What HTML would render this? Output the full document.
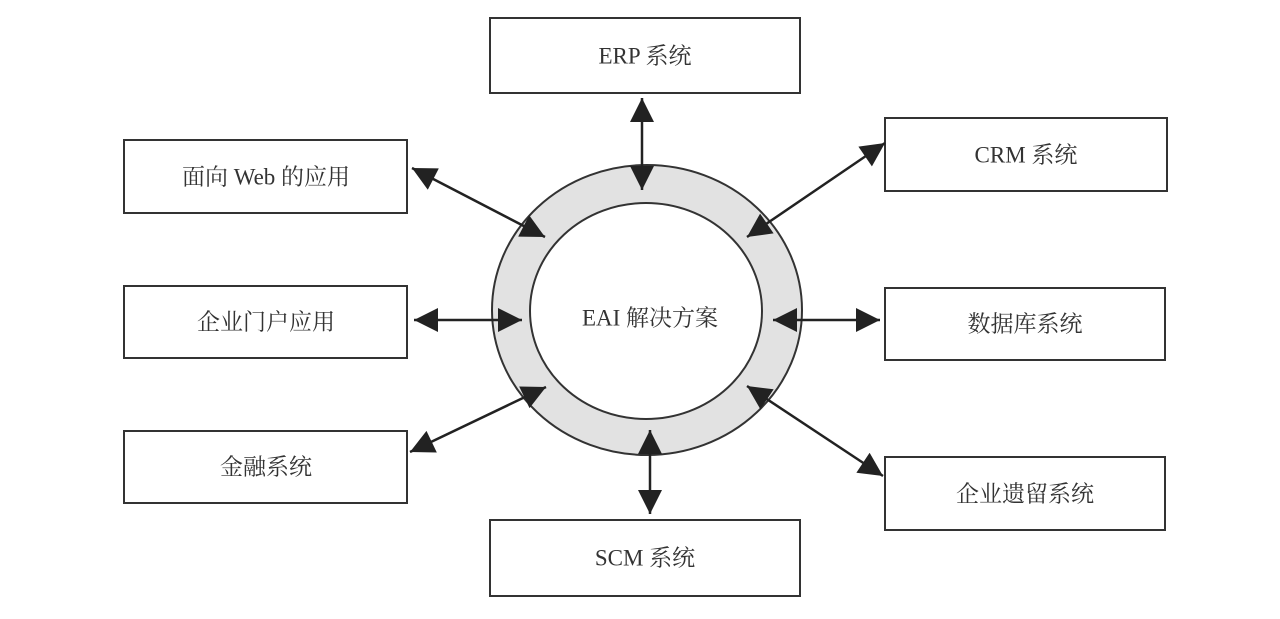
<!DOCTYPE html>
<html><head><meta charset="utf-8"><style>
html,body{margin:0;padding:0;background:#fff}
svg{display:block}
text{font-family:"Liberation Serif","Noto Serif CJK SC",serif;font-size:23px;fill:#333;text-anchor:middle;dominant-baseline:central}
</style></head><body>
<svg width="1280" height="619" viewBox="0 0 1280 619" xmlns="http://www.w3.org/2000/svg">
<defs>
<marker id="a" viewBox="0 0 10 10" refX="10" refY="5" markerWidth="10" markerHeight="10" markerUnits="userSpaceOnUse" orient="auto-start-reverse">
<path d="M0,0 L10,5 L0,10 z" fill="#222"/></marker>
<marker id="b" viewBox="0 0 10 10" refX="10" refY="5" markerWidth="26" markerHeight="24" markerUnits="userSpaceOnUse" orient="auto-start-reverse">
<path d="M0,0 L10,5 L0,10 z" fill="#222"/></marker>
</defs>
<g fill="#fff" stroke="#333" stroke-width="2">
<rect x="490" y="18" width="310" height="75"/>
<rect x="885" y="118" width="282" height="73"/>
<rect x="124" y="140" width="283" height="73"/>
<rect x="124" y="286" width="283" height="72"/>
<rect x="885" y="288" width="280" height="72"/>
<rect x="124" y="431" width="283" height="72"/>
<rect x="885" y="457" width="280" height="73"/>
<rect x="490" y="520" width="310" height="76"/>
</g>
<ellipse cx="647" cy="310" rx="155" ry="145" fill="#e2e2e2" stroke="#333" stroke-width="2"/>
<ellipse cx="646" cy="311" rx="116" ry="108" fill="#fff" stroke="#333" stroke-width="2"/>
<g stroke="#222" stroke-width="2.5" marker-start="url(#b)" marker-end="url(#b)">
<line x1="642" y1="98" x2="642" y2="190"/>
<line x1="885" y1="143" x2="747" y2="237"/>
<line x1="412" y1="168" x2="545" y2="237"/>
<line x1="414" y1="320" x2="522" y2="320"/>
<line x1="773" y1="320" x2="880" y2="320"/>
<line x1="410" y1="452" x2="546" y2="387"/>
<line x1="883" y1="476" x2="747" y2="386"/>
<line x1="650" y1="430" x2="650" y2="514"/>
</g>
<text x="645" y="56">ERP 系统</text>
<text x="1026" y="155">CRM 系统</text>
<text x="266" y="177">面向 Web 的应用</text>
<text x="266" y="322">企业门户应用</text>
<text x="1025" y="324">数据库系统</text>
<text x="266" y="467">金融系统</text>
<text x="1025" y="494">企业遗留系统</text>
<text x="645" y="558">SCM 系统</text>
<text x="650" y="318">EAI 解决方案</text>
</svg>
</body></html>
